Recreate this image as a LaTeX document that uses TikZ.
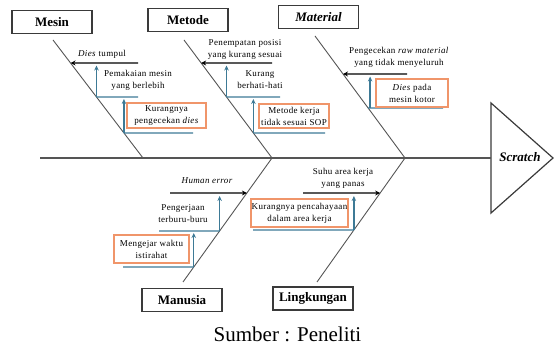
\documentclass[tikz,border=0pt]{standalone}
\usepackage{fontspec}
\setmainfont{Liberation Serif}
\newfontfamily\causefont[LetterSpace=4]{Liberation Serif}
\usetikzlibrary{calc,arrows.meta}

\definecolor{bonegray}{HTML}{555555}
\definecolor{boxgray}{HTML}{3A3A3A}
\definecolor{subblue}{HTML}{3D7A96}
\definecolor{causeorange}{HTML}{F0956A}

\tikzset{
  catbox/.style={draw=boxgray, line width=1.3pt, fill=white, minimum width=80pt,
    minimum height=23pt, inner sep=0pt, font=\fontsize{13}{15}\selectfont\bfseries},
  bone/.style={draw=bonegray, line width=0.9pt},
  mainarrow/.style={draw=black, line width=1.4pt, -{Stealth[length=5pt,width=5pt]}},
  subline/.style={draw=subblue, line width=1.3pt},
  subarrow/.style={draw=subblue, line width=1.3pt, -{Stealth[length=5pt,width=4.5pt]}},
  causebox/.style={draw=causeorange, line width=1.1pt, fill=white, inner sep=0pt,
    align=center, font=\causefont\fontsize{9}{12}\selectfont},
  cause/.style={align=center, inner sep=0pt, font=\causefont\fontsize{9}{12}\selectfont},
}

\begin{document}
\begin{tikzpicture}[x=1pt, y=-1pt]
  \useasboundingbox (0,0) rectangle (554,347);

  % spine and head
  \coordinate (tail) at (40,158);
  \coordinate (head) at (491,158);
  \draw[boxgray, line width=1.2pt] (491,103) coordinate (hdTop) -- (553,158) coordinate (hdTip) -- (491,213) coordinate (hdBot) -- cycle;
  \node[font=\fontsize{13}{15}\selectfont\bfseries\itshape, inner sep=0pt] (effect) at (520,157) {Scratch};
  \draw[bonegray, line width=1.2pt] (tail) -- (head);

  % bone end points on the spine
  \coordinate (j1) at (143,158);
  \coordinate (j2) at (272,158);
  \coordinate (j3) at (405,158);

  % category boxes
  \node[catbox] (mesin) at (52,22) {Mesin};
  \node[catbox] (metode) at (188,20) {Metode};
  \node[catbox, font=\fontsize{13}{15}\selectfont\bfseries\itshape] (material) at (318.5,17) {Material};
  \node[catbox] (manusia) at (182,300) {Manusia};
  \node[catbox] (lingkungan) at (313,298.5) {Lingkungan};

  % bones
  \coordinate (mTop) at (53,40);
  \coordinate (tTop) at (184,40);
  \coordinate (lTop) at (315,36);
  \coordinate (hBot) at (183,282);
  \coordinate (gBot) at (317,282);
  \draw[bone] (mTop) -- (j1);
  \draw[bone] (tTop) -- (j2);
  \draw[bone] (lTop) -- (j3);
  \draw[bone] (hBot) -- (j2);
  \draw[bone] (gBot) -- (j3);

  % ---- Mesin ----
  \coordinate (mA) at ($(mTop)!{23/118}!(j1)$);
  \coordinate (mB) at ($(mTop)!{57/118}!(j1)$);
  \coordinate (mC) at ($(mTop)!{93/118}!(j1)$);
  \coordinate (mAe) at (138,63);
  \coordinate (mBe) at (138,97);
  \coordinate (mCe) at (193,133);
  \draw[mainarrow] (mAe) -- (mA);
  \draw[subline] (mB) -- (mBe);
  \draw[subarrow] (mB) -- ($(mB|-mA)+(0,2.5)$);
  \draw[subline] (mC) -- (mCe);
  \draw[subarrow] (mC) -- ($(mC|-mB)+(0,2)$);
  \node[cause] (m1) at (102,54) {\textit{Dies} tumpul};
  \node[cause] (m2) at (138,80.5) {Pemakaian mesin\\yang berlebih};
  \node[causebox, minimum width=79pt, minimum height=25pt] (m3) at (166.5,115.5) {Kurangnya\\pengecekan \textit{dies}};

  % ---- Metode ----
  \coordinate (tA) at ($(tTop)!{23/118}!(j2)$);
  \coordinate (tB) at ($(tTop)!{57/118}!(j2)$);
  \coordinate (tC) at ($(tTop)!{93/118}!(j2)$);
  \coordinate (tAe) at (272,63);
  \coordinate (tBe) at (280,97);
  \coordinate (tCe) at (325,133);
  \draw[mainarrow] (tAe) -- (tA);
  \draw[subline] (tB) -- (tBe);
  \draw[subarrow] (tB) -- ($(tB|-tA)+(0,2.5)$);
  \draw[subline] (tC) -- (tCe);
  \draw[subarrow] (tC) -- ($(tC|-tB)+(0,2)$);
  \node[cause] (t1) at (245,49) {Penempatan posisi\\yang kurang sesuai};
  \node[cause] (t2) at (260,80) {Kurang\\berhati-hati};
  \node[causebox, minimum width=70pt, minimum height=24pt] (t3) at (294,116) {Metode kerja\\tidak sesuai SOP};

  % ---- Material ----
  \coordinate (lA) at ($(lTop)!{38/122}!(j3)$);
  \coordinate (lB) at ($(lTop)!{72/122}!(j3)$);
  \coordinate (lAe) at (407,74);
  \coordinate (lBe) at (443,108);
  \draw[mainarrow] (lAe) -- (lA);
  \draw[subline] (lB) -- (lBe);
  \draw[subarrow] ($(lB)+(2,0)$) -- ($(lB|-lA)+(2,2.5)$);
  \node[cause] (l1) at (399,57.5) {Pengecekan \textit{raw material}\\yang tidak menyeluruh};
  \node[causebox, minimum width=72pt, minimum height=28pt] (l2) at (412,93) {\textit{Dies} pada\\mesin kotor};

  % ---- Manusia ----
  \coordinate (hA) at ($(j2)!{35/124}!(hBot)$);
  \coordinate (hB) at ($(j2)!{73/124}!(hBot)$);
  \coordinate (hC) at ($(j2)!{109/124}!(hBot)$);
  \coordinate (hAs) at (170,193);
  \coordinate (hBs) at (159,231);
  \coordinate (hCs) at (123,267);
  \draw[mainarrow] (hAs) -- (hA);
  \draw[subline] (hBs) -- (hB);
  \draw[subarrow] (hB) -- ($(hB|-hA)+(0,3)$);
  \draw[subline] (hCs) -- (hC);
  \draw[subarrow] (hC) -- ($(hC|-hB)+(0,2)$);
  \node[cause, font=\causefont\fontsize{9}{12}\selectfont\itshape] (h1) at (207,181) {Human error};
  \node[cause] (h2) at (183,213.5) {Pengerjaan\\terburu-buru};
  \node[causebox, minimum width=75pt, minimum height=28pt] (h3) at (151.5,249) {Mengejar waktu\\istirahat};

  % ---- Lingkungan ----
  \coordinate (gA) at ($(j3)!{35/124}!(gBot)$);
  \coordinate (gB) at ($(j3)!{72/124}!(gBot)$);
  \coordinate (gAs) at (303,193);
  \coordinate (gBs) at (253,230);
  \draw[mainarrow] (gAs) -- (gA);
  \draw[subline] (gBs) -- (gB);
  \draw[subarrow] (gB) -- ($(gB|-gA)+(0,3)$);
  \node[cause] (g1) at (343,178) {Suhu area kerja\\yang panas};
  \node[causebox, minimum width=97pt, minimum height=28pt] (g2) at (299.5,213) {Kurangnya pencahayaan\\dalam area kerja};

  % source line
  \node[font=\fontsize{21}{25}\selectfont, inner sep=0pt, anchor=base] (src) at (287.5,341) {Sumber : Peneliti};
\end{tikzpicture}
\end{document}
